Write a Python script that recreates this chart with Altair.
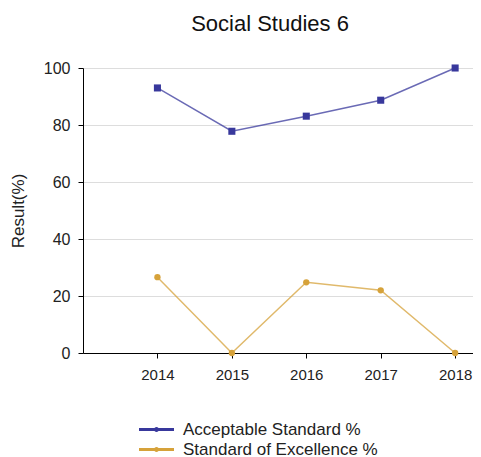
import altair as alt
import pandas as pd

years = [2014, 2015, 2016, 2017, 2018]
acceptable = [93.0, 77.8, 83.1, 88.7, 100.0]
excellence = [26.6, 0.0, 24.8, 22.0, 0.0]
series_names = ["Acceptable Standard %", "Standard of Excellence %"]
marker_keys = ["acc", "exc"]
colors = ["#38389c", "#d6a23a"]

rows = []
for y, a, e in zip(years, acceptable, excellence):
    rows.append({"Year": y, "Series": series_names[0], "Marker": marker_keys[0], "Value": a})
    rows.append({"Year": y, "Series": series_names[1], "Marker": marker_keys[1], "Value": e})
df = pd.DataFrame(rows)

font = "Liberation Sans"
legend_symbol = "M-1.75,0H1.75M-0.1,0A0.1,0.1 0 1,0 0.1,0A0.1,0.1 0 1,0 -0.1,0"

x = alt.X("Year:Q", scale=alt.Scale(domain=[2013, 2018.24], nice=False, zero=False),
          axis=alt.Axis(values=years, format="d", title=None, grid=False,
                        domainColor="#000", tickColor="#000", tickSize=5,
                        labelFontSize=15, labelColor="#222", labelFont=font, labelPadding=9))
y = alt.Y("Value:Q", scale=alt.Scale(domain=[0, 100], nice=False),
          axis=alt.Axis(values=[0, 20, 40, 60, 80, 100], title="Result(%)",
                        titleFont=font, titleFontSize=17, titleFontWeight="normal",
                        titleColor="#222", titlePadding=16,
                        gridColor="#dddddd", domainColor="#000", tickColor="#000",
                        tickSize=5, labelFontSize=16, labelColor="#222", labelFont=font,
                        labelPadding=8))
stroke = alt.Stroke("Series:N", scale=alt.Scale(domain=series_names, range=colors),
                    legend=alt.Legend(title=None, orient="none", legendX=62, legendY=350,
                                      symbolType=legend_symbol, symbolStrokeWidth=3, symbolSize=400,
                                      symbolOpacity=1,
                                      labelFont=font, labelFontSize=17, labelColor="#222",
                                      labelLimit=400, rowPadding=0, labelOffset=15))

lines = alt.Chart(df).mark_line(strokeWidth=1.5, opacity=0.75).encode(x=x, y=y, stroke=stroke)
pts = alt.Chart(df).mark_point(filled=True, opacity=1, strokeWidth=0).encode(
    x=x, y=y,
    fill=alt.Fill("Marker:N", scale=alt.Scale(domain=marker_keys, range=colors), legend=None),
    shape=alt.Shape("Marker:N", scale=alt.Scale(domain=marker_keys, range=["square", "circle"]), legend=None),
    size=alt.Size("Marker:N", scale=alt.Scale(domain=marker_keys, range=[50, 40]), legend=None),
)

chart = alt.layer(lines, pts).properties(
    width=390, height=285,
    title=alt.TitleParams("Social Studies 6", font=font, fontSize=22, fontWeight="normal",
                          color="#111", anchor="middle", dx=-8, offset=24),
    autosize=alt.AutoSizeParams(type="none"),
    padding={"left": 75, "top": 60, "right": 0, "bottom": 104},
).configure_view(stroke=None)

chart.save("out.html", embed_options={"renderer": "svg", "actions": False})
